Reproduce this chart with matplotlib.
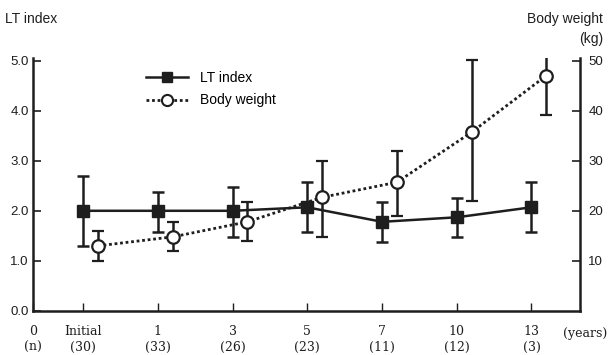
import numpy as np
import matplotlib.pyplot as plt
from matplotlib.lines import Line2D

# data
years = ['Initial', '1', '3', '5', '7', '10', '13']
counts = ['(30)', '(33)', '(26)', '(23)', '(11)', '(12)', '(3)']

lt_mean = [2.0, 2.0, 2.0, 2.07, 1.78, 1.87, 2.07]
lt_low = [1.3, 1.58, 1.48, 1.57, 1.38, 1.47, 1.57]
lt_high = [2.7, 2.37, 2.47, 2.58, 2.17, 2.26, 2.57]

bw_mean = [13.0, 14.8, 17.8, 22.7, 25.7, 35.7, 47.0]
bw_low = [10.0, 11.9, 13.9, 14.8, 18.9, 21.9, 39.2]
bw_high = [16.0, 17.8, 21.8, 30.0, 32.0, 50.2, 55.0]

ink = '#1e1e1e'
sans = 'Liberation Sans'
serif = 'DejaVu Serif'

pos = np.arange(len(years))
bw_pos = pos + 0.2
x0 = -0.67  # where the "0" label sits (left spine)

fig = plt.figure(figsize=(6.08, 3.55), dpi=100)
ax = fig.add_axes([0.0543, 0.124, 0.8997, 0.7126])
ax2 = ax.twinx()

lt_err = [np.array(lt_mean) - np.array(lt_low), np.array(lt_high) - np.array(lt_mean)]
bw_err = [np.array(bw_mean) - np.array(bw_low), np.array(bw_high) - np.array(bw_mean)]

ax.errorbar(pos, lt_mean, yerr=lt_err, color=ink, lw=1.8, elinewidth=1.8,
            capsize=4, capthick=1.8, marker='s', ms=8, mfc=ink, mec=ink)
ax2.errorbar(bw_pos, bw_mean, yerr=bw_err, color=ink, lw=2.0, ls=(0, (1, 1)),
             elinewidth=1.8, capsize=4, capthick=1.8, marker='o', ms=9,
             mfc='white', mec=ink, mew=1.6)

ax.set_xlim(x0, 6.65)
ax.set_ylim(0, 5.05)
ax2.set_ylim(0, 50.5)

ax.set_yticks([0, 1, 2, 3, 4, 5])
ax.set_yticklabels(['0.0', '1.0', '2.0', '3.0', '4.0', '5.0'], fontfamily=sans, fontsize=9.5)
ax2.set_yticks([10, 20, 30, 40, 50])
ax2.set_yticklabels(['10', '20', '30', '40', '50'], fontfamily=sans, fontsize=9.5)

ax.set_xticks(np.concatenate([[x0], pos]))
ax.set_xticklabels([y + '\n' + c for y, c in zip(['0'] + years, ['(n)'] + counts)],
                   fontfamily=serif, fontsize=9, linespacing=1.35)

ax.tick_params(axis='y', direction='in', length=6, width=1.2, colors=ink, pad=3)
ax.tick_params(axis='x', direction='in', length=6, width=1.0, colors=ink, pad=10)
ax2.tick_params(axis='y', direction='in', length=6, width=1.2, colors=ink, pad=6)

for a in (ax, ax2):
    a.spines['top'].set_visible(False)
    for s in ('left', 'right', 'bottom'):
        a.spines[s].set_color(ink)
        a.spines[s].set_linewidth(1.8)
ax.spines['right'].set_visible(False)
ax2.spines['left'].set_visible(False)
ax2.spines['bottom'].set_visible(False)

fig.text(0.008, 0.935, 'LT index', fontfamily=sans, fontsize=10, color=ink)
fig.text(0.992, 0.935, 'Body weight', fontfamily=sans, fontsize=10, color=ink, ha='right')
fig.text(0.992, 0.88, '(kg)', fontfamily=sans, fontsize=10, color=ink, ha='right')
fig.text(0.998, 0.05, '(years)', fontfamily=serif, fontsize=9, color=ink, ha='right')

handles = [
    Line2D([], [], color=ink, lw=1.8, marker='s', ms=7, mfc=ink),
    Line2D([], [], color=ink, lw=2.0, ls=(0, (1, 1)), marker='o', ms=8,
           mfc='white', mec=ink, mew=1.5),
]
leg = ax.legend(handles, ['LT index', 'Body weight'], loc='upper left',
                bbox_to_anchor=(0.22, 0.835), bbox_transform=fig.transFigure,
                frameon=False, handlelength=3.0, handletextpad=0.9,
                labelspacing=0.6, prop={'family': sans, 'size': 10})

fig.savefig('out.png', dpi=100)
